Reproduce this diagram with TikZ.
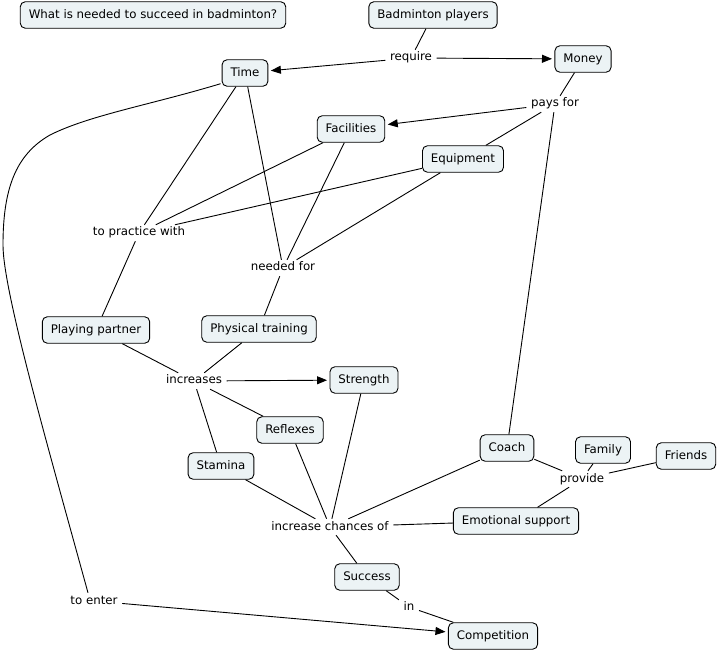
\documentclass[tikz,border=0pt]{standalone}
\usepackage{fontspec}
\setmainfont{DejaVu Sans}
\usetikzlibrary{arrows.meta,calc}
\definecolor{cfill}{RGB}{236,243,245}
\tikzset{
  concept/.style={draw=black, line width=0.9pt, fill=cfill, rounded corners=5pt,
    inner xsep=8.5pt, inner ysep=0pt, minimum height=26.5pt, text height=9pt, text depth=2.5pt,
    font=\fontsize{11.8}{14}\selectfont},
  link/.style={inner xsep=4.5pt, inner ysep=2.5pt, text height=8.5pt, text depth=2.5pt,
    font=\fontsize{11.8}{14}\selectfont},
  conn/.style={draw=black, line width=0.9pt},
  arr/.style={conn, -{Triangle[length=10pt,width=8pt]}, shorten >=2.5pt}
}
\begin{document}
\begin{tikzpicture}[x=1pt,y=-1pt]
\useasboundingbox (0,0) rectangle (718,652);
% concepts
\node[concept] (title) at (153,15) {What is needed to succeed in badminton?};
\node[concept] (bp) at (433,15) {Badminton players};
\node[concept] (money) at (583,59) {Money};
\node[concept] (time) at (245,73) {Time};
\node[concept] (facilities) at (351,129) {Facilities};
\node[concept] (equipment) at (463,159) {Equipment};
\node[concept] (partner) at (96,330) {Playing partner};
\node[concept] (physical) at (259,329) {Physical training};
\node[concept] (strength) at (364,380) {Strength};
\node[concept] (reflexes) at (290,430) {Reflexes};
\node[concept] (stamina) at (221,466) {Stamina};
\node[concept] (coach) at (507,448) {Coach};
\node[concept] (family) at (603,450) {Family};
\node[concept] (friends) at (686,456) {Friends};
\node[concept] (emotional) at (516,521) {Emotional support};
\node[concept] (success) at (367,577) {Success};
\node[concept] (competition) at (493,636) {Competition};
% linking phrases
\node[link] (require) at (411,58) {require};
\node[link] (paysfor) at (555,104) {pays for};
\node[link] (practice) at (139,233) {to practice with};
\node[link] (needed) at (283,268) {needed for};
\node[link] (increases) at (194,381) {increases};
\node[link] (provide) at (582,479) {provide};
\node[link] (chances) at (330,527) {increase chances of};
\node[link] (in) at (409,607) {in};
\node[link] (toenter) at (94,601) {to enter};
% connectors
\draw[conn] (bp) -- (require);
\draw[arr] (require) -- (time);
\draw[arr] (require) -- (money);
\draw[conn] (money) -- (paysfor);
\draw[arr] (paysfor) -- (facilities);
\draw[conn] (paysfor) -- (equipment);
\draw[conn] (paysfor) -- (coach);
\draw[conn] (time) -- (practice);
\draw[conn] (facilities) -- (practice);
\draw[conn] (equipment) -- (practice);
\draw[conn] (practice) -- (partner);
\draw[conn] (time) -- (needed);
\draw[conn] (facilities) -- (needed);
\draw[conn] (equipment) -- (needed);
\draw[conn] (needed) -- (physical);
\draw[conn] (partner) -- (increases);
\draw[conn] (physical) -- (increases);
\draw[arr] (increases) -- (strength);
\draw[conn] (increases) -- (reflexes);
\draw[conn] (increases) -- (stamina);
\draw[conn] (strength) -- (chances);
\draw[conn] (reflexes) -- (chances);
\draw[conn] (stamina) -- (chances);
\draw[conn] (coach) -- (chances);
\draw[conn] (emotional) -- (chances);
\draw[conn] (chances) -- (success);
\draw[conn] (success) -- (in);
\draw[conn] (in) -- (competition);
\draw[conn] (coach) -- (provide);
\draw[conn] (family) -- (provide);
\draw[conn] (friends) -- (provide);
\draw[conn] (provide) -- (emotional);
\draw[conn] ($(time.south west)+(-1,-3)$) .. controls (150,105) and (90,115) .. (50,135)
   .. controls (15,155) and (3,190) .. (3,245)
   .. controls (3,290) and (46,440) .. ($(toenter.north)+(-6,0)$);
\draw[arr] (toenter) -- (competition);
\end{tikzpicture}
\end{document}
